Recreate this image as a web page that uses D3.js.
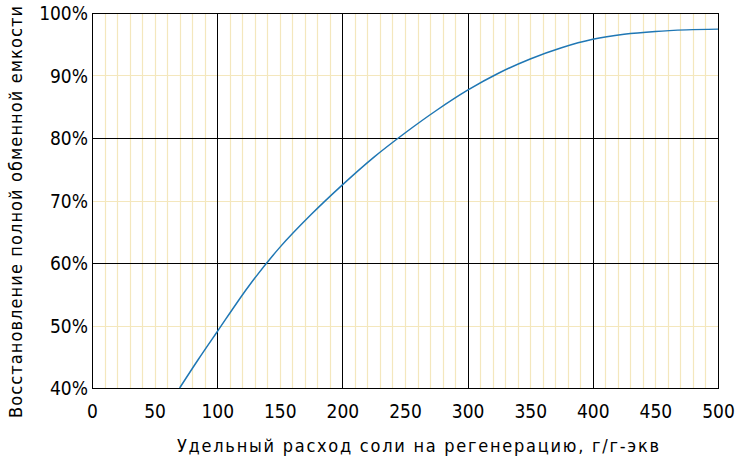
<!DOCTYPE html>
<html>
<head>
<meta charset="utf-8">
<script src="https://cdn.jsdelivr.net/npm/d3@7"></script>
<style>
  html, body { margin: 0; padding: 0; background: #fff; }
  svg text { font-family: "DejaVu Sans Condensed", "DejaVu Sans", sans-serif; fill: #000; }
</style>
</head>
<body>
<svg id="chart" width="736" height="464"></svg>
<script>
// Data
const saltDose = [70, 85, 100, 125, 150, 175, 200, 225, 250, 275, 300, 325, 350, 375, 400, 425, 450, 475, 500];
const recovery = [40.0, 44.6, 49.0, 56.25, 62.5, 67.75, 72.5, 76.9, 80.8, 84.4, 87.65, 90.4, 92.65, 94.45, 95.8, 96.6, 97.05, 97.3, 97.42];
const xTicks = [0, 50, 100, 150, 200, 250, 300, 350, 400, 450, 500];
const yTicks = [40, 50, 60, 70, 80, 90, 100];
const xMajor = [100, 200, 300, 400];
const yMajor = [60, 80];
const xTitle = "Удельный расход соли на регенерацию, г/г-экв";
const yTitle = "Восстановление полной обменной емкости";

const svg = d3.select("#chart");
const m = { left: 92, right: 718, top: 13, bottom: 388 };
const x = d3.scaleLinear().domain([0, 500]).range([m.left, m.right]);
const y = d3.scaleLinear().domain([40, 100]).range([m.bottom, m.top]);

const minorX = d3.range(10, 500, 10).filter(v => !xMajor.includes(v));
const minorY = [50, 70, 90];

// minor grid (yellow)
svg.append("g").selectAll("line").data(minorX).join("line")
  .attr("x1", d => Math.round(x(d)) + 0.5).attr("x2", d => Math.round(x(d)) + 0.5)
  .attr("y1", m.top).attr("y2", m.bottom)
  .attr("stroke", "#f4e7bd").attr("stroke-width", 1.2);
svg.append("g").selectAll("line").data(minorY).join("line")
  .attr("x1", m.left).attr("x2", m.right)
  .attr("y1", d => Math.round(y(d)) + 0.5).attr("y2", d => Math.round(y(d)) + 0.5)
  .attr("stroke", "#f4e7bd").attr("stroke-width", 1.2);

// major grid (black)
svg.append("g").selectAll("line").data(xMajor).join("line")
  .attr("x1", d => Math.round(x(d)) + 0.5).attr("x2", d => Math.round(x(d)) + 0.5)
  .attr("y1", m.top).attr("y2", m.bottom)
  .attr("stroke", "#000").attr("stroke-width", 1);
svg.append("g").selectAll("line").data(yMajor).join("line")
  .attr("x1", m.left).attr("x2", m.right)
  .attr("y1", d => Math.round(y(d)) + 0.5).attr("y2", d => Math.round(y(d)) + 0.5)
  .attr("stroke", "#000").attr("stroke-width", 1);

// frame
svg.append("rect")
  .attr("x", m.left + 0.5).attr("y", m.top + 0.5)
  .attr("width", m.right - m.left).attr("height", m.bottom - m.top)
  .attr("fill", "none").attr("stroke", "#000").attr("stroke-width", 1);

// curve
const line = d3.line().x((d, i) => x(saltDose[i])).y(d => y(d)).curve(d3.curveCatmullRom.alpha(0.5));
svg.append("path").datum(recovery)
  .attr("d", line)
  .attr("fill", "none").attr("stroke", "#1f77b4").attr("stroke-width", 1.5);

// axes (labels only)
const xAxis = d3.axisBottom(x).tickValues(xTicks).tickSize(0).tickPadding(0).tickFormat(d3.format("d"));
const gx = svg.append("g").attr("transform", `translate(0, ${m.bottom + 16})`).call(xAxis);
gx.select(".domain").remove();
gx.selectAll("text").attr("font-size", 19).attr("dy", "0.71em")
  .style("font-family", "'DejaVu Sans Condensed', 'DejaVu Sans', sans-serif");

const yAxis = d3.axisLeft(y).tickValues(yTicks).tickSize(0).tickPadding(0).tickFormat(d => d + "%");
const gy = svg.append("g").attr("transform", `translate(${m.left - 4}, 0)`).call(yAxis);
gy.select(".domain").remove();
gy.selectAll("text").attr("font-size", 19).attr("dy", "0.35em")
  .style("font-family", "'DejaVu Sans Condensed', 'DejaVu Sans', sans-serif");

// titles
svg.append("text")
  .attr("x", 418).attr("y", 452)
  .attr("text-anchor", "middle")
  .attr("font-size", 18)
  .attr("textLength", 482).attr("lengthAdjust", "spacing")
  .text(xTitle);

svg.append("text")
  .attr("transform", `translate(22, 212) rotate(-90)`)
  .attr("text-anchor", "middle")
  .attr("font-size", 18)
  .attr("textLength", 412).attr("lengthAdjust", "spacing")
  .text(yTitle);
</script>
</body>
</html>
